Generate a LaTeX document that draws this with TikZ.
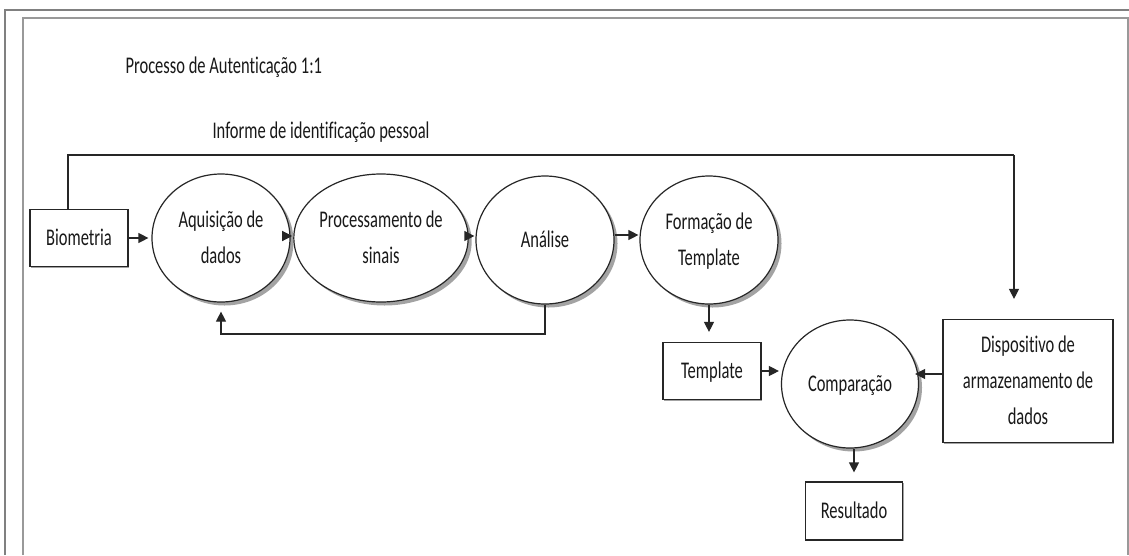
\documentclass[tikz,border=0pt]{standalone}
\usepackage{fontspec}
\setmainfont{Carlito}[Ligatures={NoCommon}]
\usepackage{graphicx}
\usetikzlibrary{arrows.meta,shadows,shapes.geometric}

% tall, narrow lettering; several lines centred
\newcommand{\tl}[1]{\scalebox{1}[1.45]{\renewcommand{\arraystretch}{1.25}\begin{tabular}{@{}c@{}}#1\end{tabular}}}

\tikzset{
  txt/.style={font=\fontsize{16.5}{20}\selectfont, text=black!90},
  stage/.style={ellipse, draw=black!85, line width=1.2pt, fill=white,
    minimum width=138pt, minimum height=128pt, inner sep=0pt, txt,
    drop shadow={shadow xshift=3.5pt, shadow yshift=-3.5pt, opacity=0.8, fill=black!45}},
  stagebox/.style={rectangle, draw=black!85, line width=1.2pt, fill=white,
    inner sep=0pt, txt,
    drop shadow={shadow xshift=1.3pt, shadow yshift=-1.3pt, opacity=0.6, fill=black!60}},
  arr/.style={line width=1.2pt, draw=black!85, -{Triangle[length=10pt,width=10pt]}},
  wire/.style={line width=1.2pt, draw=black!85},
}

\begin{document}
\begin{tikzpicture}[x=1pt,y=-1pt]
\useasboundingbox (0,0) rectangle (1129,555);
\fill[white] (0,0) rectangle (1129,555);

% page frame
\draw[black!50, line width=2pt] (5,555) -- (5,10) -- (1129,10);
\draw[black!40, line width=1.4pt] (23,555) -- (23,18) -- (1128,18) -- (1128,555);

% headings
\node[txt, anchor=west] (title) at (122,66) {\tl{Processo de Autenticação 1:1}};
\node[txt, anchor=west] (info) at (209,131) {\tl{Informe de identificação pessoal}};

% pipeline stages
\node[stagebox, minimum width=98pt, minimum height=57pt] (bio) at (79,238) {\tl{Biometria}};
\node[stage] (aq)   at (221,238) {\tl{Aquisição de\\dados}};
\node[stage] (proc) at (381,238) {\tl{Processamento de\\sinais}};
\node[stage] (ana)  at (545,240) {\tl{Análise}};
\node[stage] (form) at (709,240) {\tl{Formação de\\Template}};

% matching stage
\node[stagebox, minimum width=98pt, minimum height=57pt] (tpl) at (712,371) {\tl{Template}};
\node[stage, minimum width=137pt] (cmp) at (850,384)
  {\raisebox{12pt}{\tl{Comparação}}};
\node[stagebox, minimum width=170pt, minimum height=123pt] (disp) at (1028,381)
  {\tl{Dispositivo de\\armazenamento de\\dados}};
\node[stagebox, minimum width=97pt, minimum height=58pt] (res) at (854,511) {\tl{Resultado}};

% route of the personal identification
\coordinate (tlc) at (68,155);
\coordinate (trc) at (1014,155);
\draw[wire] (bio.north -| tlc) -- (tlc) -- (trc);
\draw[arr, shorten >=20pt] (trc) -- (trc |- disp.north);

% forward flow
\draw[arr, shorten >=3pt] (bio.east) -- (bio.east -| aq.west);
\draw[arr, shorten >=1pt] ([yshift=2pt]aq.east) -- ([yshift=2pt]aq.east -| proc.west);
\draw[arr, shorten >=1pt] ([yshift=2pt]proc.east) -- ([yshift=2pt]proc.east -| ana.west);
\draw[arr, shorten >=1pt] ([yshift=5pt]ana.east) -- ([yshift=5pt]ana.east -| form.west);

% feedback from analysis to acquisition
\coordinate (fb) at (545,334);
\draw[arr, shorten >=9pt] (ana.south) -- (fb) -- (fb -| aq.south) -- (aq.south);

% template and stored data into comparison
\draw[arr, shorten >=10pt] (form.south) -- (form.south |- tpl.north);
\draw[arr, shorten >=2pt] (tpl.east) -- (tpl.east -| cmp.west);
\draw[arr, shorten >=-4pt] ([yshift=7pt]disp.west) -- ([yshift=7pt]disp.west -| cmp.east);
\draw[arr, shorten >=9pt] (res.north |- cmp.south) -- (res.north);
\end{tikzpicture}
\end{document}
